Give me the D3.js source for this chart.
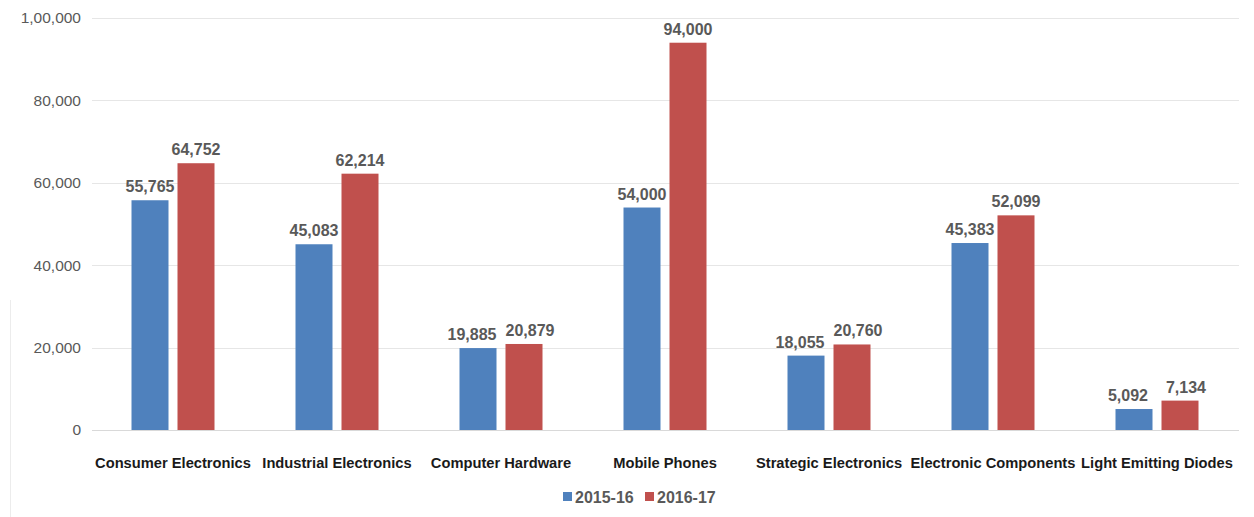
<!DOCTYPE html>
<html>
<head>
<meta charset="utf-8">
<script src="https://cdn.jsdelivr.net/npm/d3@7"></script>
<style>
  body { margin: 0; background: #fff; }
  svg { display: block; font-family: "Liberation Sans", Arial, sans-serif; }
</style>
</head>
<body>
<svg width="1254" height="517"></svg>
<script>
const categories = ["Consumer Electronics", "Industrial Electronics", "Computer Hardware",
  "Mobile Phones", "Strategic Electronics", "Electronic Components", "Light Emitting Diodes"];
const series = ["2015-16", "2016-17"];
const values2015 = [55765, 45083, 19885, 54000, 18055, 45383, 5092];
const values2016 = [64752, 62214, 20879, 94000, 20760, 52099, 7134];
const tickValues = [0, 20000, 40000, 60000, 80000, 100000];
const tickLabels = ["0", "20,000", "40,000", "60,000", "80,000", "1,00,000"];
const colors = ["#4f81bd", "#c0504d"];

const svg = d3.select("svg");
const plotLeft = 91, plotRight = 1239, plotTop = 18, plotBottom = 430;

const x0 = d3.scaleBand().domain(categories).range([plotLeft, plotRight]).padding(0);
const bw = x0.bandwidth();
const x1 = d3.scaleBand().domain(series)
    .range([bw / 2 - 41.5, bw / 2 + 41.5]).paddingInner(9 / 46);
const y = d3.scaleLinear().domain([0, 100000]).range([plotBottom, plotTop]);
const color = d3.scaleOrdinal().domain(series).range(colors);

// faint border line at far left
svg.append("line")
    .attr("x1", 10.5).attr("x2", 10.5).attr("y1", 300).attr("y2", 517)
    .attr("stroke", "#ececec");

// gridlines
svg.append("g")
    .selectAll("line")
    .data(tickValues)
    .join("line")
    .attr("x1", plotLeft + 1).attr("x2", plotRight)
    .attr("y1", d => Math.round(y(d)) + 0.5)
    .attr("y2", d => Math.round(y(d)) + 0.5)
    .attr("stroke", d => d === 0 ? "#d9d9d9" : "#e6e6e6");

// y tick labels
svg.append("g")
    .selectAll("text")
    .data(tickValues)
    .join("text")
    .attr("x", 81)
    .attr("y", d => y(d))
    .attr("dy", "0.35em")
    .attr("text-anchor", "end")
    .attr("font-size", 15.5)
    .attr("fill", "#595959")
    .text((d, i) => tickLabels[i]);

const rows = categories.map((c, i) => ({ cat: c, vals: [values2015[i], values2016[i]] }));

const groups = svg.append("g")
    .selectAll("g")
    .data(rows)
    .join("g")
    .attr("transform", d => `translate(${x0(d.cat)},0)`);

const bars = groups.selectAll("g")
    .data(d => {
        // push labels apart when the two bars are about the same height
        const close = Math.abs(y(d.vals[0]) - y(d.vals[1])) < 16;
        return d.vals.map((v, i) => ({ s: series[i], v, shift: close ? (i ? 6 : -6) : 0 }));
    })
    .join("g");

bars.append("rect")
    .attr("x", d => x1(d.s))
    .attr("y", d => y(d.v))
    .attr("width", x1.bandwidth())
    .attr("height", d => plotBottom - y(d.v))
    .attr("fill", d => color(d.s));

bars.append("text")
    .attr("x", d => x1(d.s) + x1.bandwidth() / 2 + d.shift)
    .attr("y", d => y(d.v) - 8)
    .attr("text-anchor", "middle")
    .attr("font-size", 16)
    .attr("font-weight", "bold")
    .attr("fill", "#595959")
    .text(d => d3.format(",")(d.v));

// category labels
svg.append("g")
    .selectAll("text")
    .data(categories)
    .join("text")
    .attr("x", d => x0(d) + bw / 2)
    .attr("y", 468)
    .attr("text-anchor", "middle")
    .attr("font-size", 14.7)
    .attr("font-weight", "bold")
    .attr("fill", "#1a1a1a")
    .text(d => d);

// legend
const legend = svg.append("g").attr("transform", "translate(563,497)");
const items = legend.selectAll("g")
    .data(series)
    .join("g")
    .attr("transform", (d, i) => `translate(${i * 82},0)`);
items.append("rect")
    .attr("x", 0).attr("y", -5).attr("width", 9).attr("height", 9)
    .attr("fill", d => color(d));
items.append("text")
    .attr("x", 12).attr("y", 0).attr("dy", "0.35em")
    .attr("font-size", 16)
    .attr("font-weight", "bold")
    .attr("fill", "#595959")
    .text(d => d);
</script>
</body>
</html>
